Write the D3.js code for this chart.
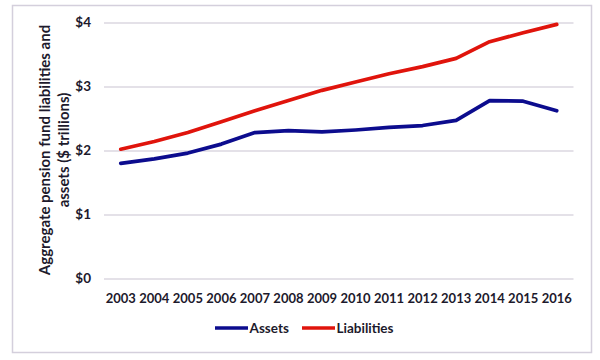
<!DOCTYPE html>
<html>
<head>
<meta charset="utf-8">
<script src="https://cdn.jsdelivr.net/npm/d3@7/dist/d3.min.js"></script>
<style>
  html, body { margin: 0; padding: 0; background: #fff; }
  svg text { font-family: Lato, "Open Sans", sans-serif; font-weight: 700; fill: #1d1a2c; }
</style>
</head>
<body>
<svg id="chart" width="600" height="360"></svg>
<script>
const years = ["2003","2004","2005","2006","2007","2008","2009","2010","2011","2012","2013","2014","2015","2016"];
const assets = [1.80,1.87,1.96,2.10,2.28,2.31,2.29,2.32,2.36,2.39,2.47,2.78,2.77,2.62];
const liabilities = [2.02,2.14,2.28,2.45,2.62,2.78,2.94,3.07,3.20,3.31,3.44,3.70,3.84,3.97];
const yTicks = [0,1,2,3,4];
const yTickLabels = ["$0","$1","$2","$3","$4"];
const seriesNames = ["Assets","Liabilities"];
const seriesColors = ["#0c0c8e","#e0140c"];
const yTitleLines = ["Aggregate pension fund liabilities and","assets ($ trillions)"];

const svg = d3.select("#chart");

// outer frame
svg.append("rect").attr("x", 12.5).attr("y", 5.5).attr("width", 579).attr("height", 347)
  .attr("fill", "#fff").attr("stroke", "#d4cfdc").attr("stroke-width", 1.5);

const plot = {left: 104, right: 573.5, top: 22.5, bottom: 278.5};

const x = d3.scaleBand().domain(years).range([plot.left, plot.right]);
const y = d3.scaleLinear().domain([0, 4]).range([plot.bottom, plot.top]);

// gridlines + y labels
const yAxis = d3.axisLeft(y).tickValues(yTicks)
  .tickFormat((d, i) => yTickLabels[i])
  .tickSize(-(plot.right - plot.left)).tickPadding(13);
const gy = svg.append("g").attr("transform", `translate(${plot.left},0)`).call(yAxis);
gy.select(".domain").remove();
gy.selectAll(".tick line").attr("stroke", "#c9c3d1").attr("stroke-width", 1.2);
gy.selectAll(".tick text").style("font-size", "13.5px").attr("fill", "#1d1a2c");

// x labels
const xAxis = d3.axisBottom(x).tickSize(0).tickPadding(15);
const gx = svg.append("g").attr("transform", `translate(0,${plot.bottom})`).call(xAxis);
gx.select(".domain").remove();
gx.selectAll(".tick text").style("font-size", "13px").attr("fill", "#1d1a2c");

// lines
const line = d3.line()
  .x((d, i) => x(years[i]) + x.bandwidth() / 2)
  .y(d => y(d));
[assets, liabilities].forEach((s, k) => {
  svg.append("path").datum(s)
    .attr("d", line)
    .attr("fill", "none")
    .attr("stroke", seriesColors[k])
    .attr("stroke-width", 3.7)
    .attr("stroke-linejoin", "round")
    .attr("stroke-linecap", "round");
});

// y title
const yt = svg.append("text")
  .attr("transform", "translate(50,150) rotate(-90)")
  .attr("text-anchor", "middle")
  .style("font-size", "15px");
yt.selectAll("tspan").data(yTitleLines).enter().append("tspan")
  .attr("x", 0).attr("dy", (d, i) => i === 0 ? 0 : 18.5)
  .text(d => d);

// legend
const legendItems = [
  {x1: 215, x2: 248, tx: 249.5},
  {x1: 302, x2: 335, tx: 336.5}
];
const lg = svg.append("g");
legendItems.forEach((it, k) => {
  lg.append("line").attr("x1", it.x1).attr("x2", it.x2).attr("y1", 328).attr("y2", 328)
    .attr("stroke", seriesColors[k]).attr("stroke-width", 3.7);
  lg.append("text").attr("x", it.tx).attr("y", 333)
    .style("font-size", "13.5px").text(seriesNames[k]);
});
</script>
</body>
</html>
